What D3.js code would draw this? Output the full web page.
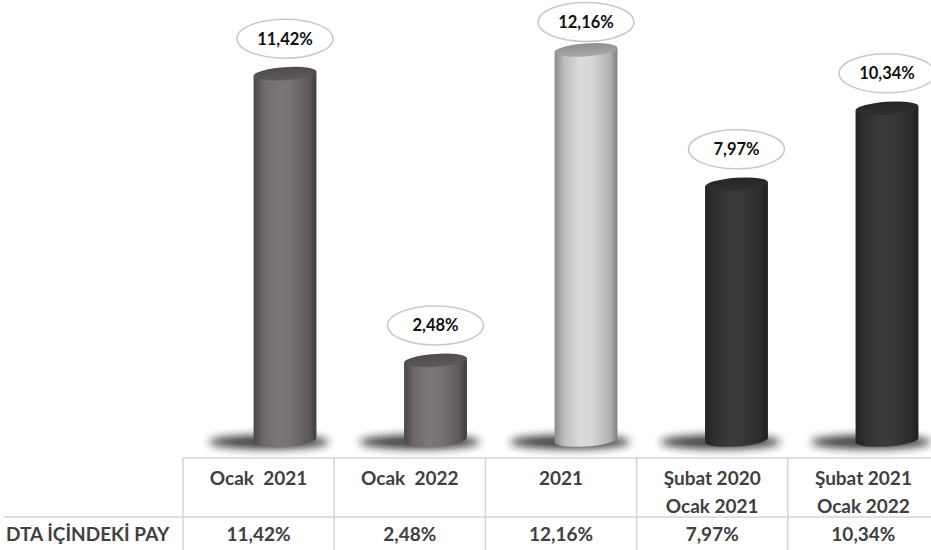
<!DOCTYPE html>
<html>
<head>
<meta charset="utf-8">
<script src="https://cdn.jsdelivr.net/npm/d3@7"></script>
<style>
  body { margin: 0; background: #fff; }
  svg { display: block; font-family: Lato, "Open Sans", sans-serif; }
</style>
</head>
<body>
<div id="chart"></div>
<script>
// === DATA ===
const categories = ["Ocak  2021", "Ocak  2022", "2021", "Şubat 2020\nOcak 2021", "Şubat 2021\nOcak 2022"];
const values = [11.42, 2.48, 12.16, 7.97, 10.34];
const valueLabels = ["11,42%", "2,48%", "12,16%", "7,97%", "10,34%"];
const tones = ["mid", "mid", "light", "dark", "dark"];
const rowTitle = "DTA İÇİNDEKİ PAY";

// === LAYOUT ===
const W = 931, H = 550;
const svg = d3.select("#chart").append("svg")
  .attr("width", W).attr("height", H);

const x = d3.scalePoint().domain(categories).range([285, 887]);
const y = d3.scaleLinear().domain([0, 13]).range([440, 23]);
const col = d3.scaleBand().domain(categories).range([183, 939]);

const rx = 31.5, ry = 6.5, tilt = -4;
const tr = tilt * Math.PI / 180;

// colour sets for the cylinders
const palette = {
  mid:   { body: ["#4b4746", "#6c6867", "#7c7877", "#757170", "#5d5958", "#403c3b"], top: ["#4f4b4a", "#5e5a59"] },
  light: { body: ["#8a8a8a", "#bdbdbd", "#dcdada", "#d8d6d6", "#b0b0b0", "#7e7e7e"], top: ["#8f8f8f", "#a8a8a8"] },
  dark:  { body: ["#232121", "#302e2e", "#3d3a3a", "#3a3737", "#2d2b2b", "#1f1d1d"], top: ["#262424", "#323030"] }
};

const defs = svg.append("defs");
Object.entries(palette).forEach(([k, p]) => {
  const g = defs.append("linearGradient").attr("id", "body-" + k)
    .attr("x1", 0).attr("x2", 1).attr("y1", 0).attr("y2", 0);
  [0, 0.15, 0.4, 0.6, 0.88, 1].forEach((o, i) =>
    g.append("stop").attr("offset", o).attr("stop-color", p.body[i]));
  const t = defs.append("linearGradient").attr("id", "top-" + k)
    .attr("x1", 0).attr("x2", 0).attr("y1", 0).attr("y2", 1);
  t.append("stop").attr("offset", 0).attr("stop-color", p.top[0]);
  t.append("stop").attr("offset", 1).attr("stop-color", p.top[1]);
});
defs.append("filter").attr("id", "blur")
  .attr("x", "-50%").attr("y", "-200%").attr("width", "200%").attr("height", "500%")
  .append("feGaussianBlur").attr("stdDeviation", 4);

const data = categories.map((c, i) => ({ cat: c, value: values[i], label: valueLabels[i], tone: tones[i] }));

// === SHADOWS ===
svg.append("g").selectAll("ellipse").data(data).join("ellipse")
  .attr("cx", d => x(d.cat) - 16)
  .attr("cy", y(0) + 2)
  .attr("rx", 60).attr("ry", 7)
  .attr("fill", "#1a1a1a").attr("opacity", 0.85)
  .attr("filter", "url(#blur)");

// === CYLINDERS ===
const cyl = svg.append("g").selectAll("g").data(data).join("g");

function bodyPath(d) {
  const cx = x(d.cat), top = y(d.value), base = y(0);
  const dx = rx * Math.cos(tr), dy = rx * Math.sin(tr);
  return `M${cx - dx},${top - dy} L${cx - dx},${base - dy}` +
    ` A${rx},${ry} ${tilt} 0 0 ${cx + dx},${base + dy}` +
    ` L${cx + dx},${top + dy} Z`;
}

cyl.append("path")
  .attr("d", bodyPath)
  .attr("fill", d => `url(#body-${d.tone})`);

cyl.append("ellipse")
  .attr("cx", 0).attr("cy", 0)
  .attr("rx", rx).attr("ry", ry)
  .attr("transform", d => `translate(${x(d.cat)},${y(d.value)}) rotate(${tilt})`)
  .attr("fill", d => `url(#top-${d.tone})`);

// === VALUE LABELS ===
const lab = svg.append("g").selectAll("g").data(data).join("g")
  .attr("transform", d => `translate(${x(d.cat)},${Math.max(y(d.value) - 35, 22)})`);
lab.append("ellipse")
  .attr("rx", 48).attr("ry", 19.5)
  .attr("fill", "#fff").attr("stroke", "#c9c9c9").attr("stroke-width", 1.5);
lab.append("text")
  .attr("text-anchor", "middle").attr("dy", "0.36em")
  .style("font-size", "16.5px").style("font-weight", "bold").style("fill", "#111")
  .text(d => d.label);

// === TABLE ===
const tbl = svg.append("g");
const lineColor = "#d4d4d4";
const yTop = 458, yMid = 517, yBot = 551;

tbl.append("line").attr("x1", 183).attr("x2", W).attr("y1", yTop).attr("y2", yTop)
  .attr("stroke", lineColor).attr("stroke-width", 1.5);
tbl.append("line").attr("x1", 4).attr("x2", W).attr("y1", yMid).attr("y2", yMid)
  .attr("stroke", lineColor).attr("stroke-width", 1.5);
tbl.selectAll("line.v").data(categories).join("line").attr("class", "v")
  .attr("x1", d => col(d)).attr("x2", d => col(d))
  .attr("y1", yTop).attr("y2", yBot)
  .attr("stroke", lineColor).attr("stroke-width", 1.5);

const txtStyle = sel => sel
  .attr("text-anchor", "middle")
  .style("font-size", "19px").style("font-weight", "bold").style("fill", "#404040");

tbl.selectAll("text.head").data(categories).join("text").attr("class", "head")
  .attr("x", d => col(d) + col.bandwidth() / 2)
  .attr("y", 485)
  .call(txtStyle)
  .style("white-space", "pre")
  .each(function (d) {
    const lines = d.split("\n");
    d3.select(this).selectAll("tspan").data(lines).join("tspan")
      .attr("x", col(d) + col.bandwidth() / 2)
      .attr("dy", (l, i) => i === 0 ? 0 : 28)
      .text(l => l);
  });

tbl.selectAll("text.val").data(data).join("text").attr("class", "val")
  .attr("x", d => col(d.cat) + col.bandwidth() / 2)
  .attr("y", 541)
  .call(txtStyle)
  .text(d => d.label);

tbl.append("text")
  .attr("x", 6).attr("y", 541)
  .style("font-size", "19px").style("font-weight", "bold").style("fill", "#404040")
  .text(rowTitle);
</script>
</body>
</html>
